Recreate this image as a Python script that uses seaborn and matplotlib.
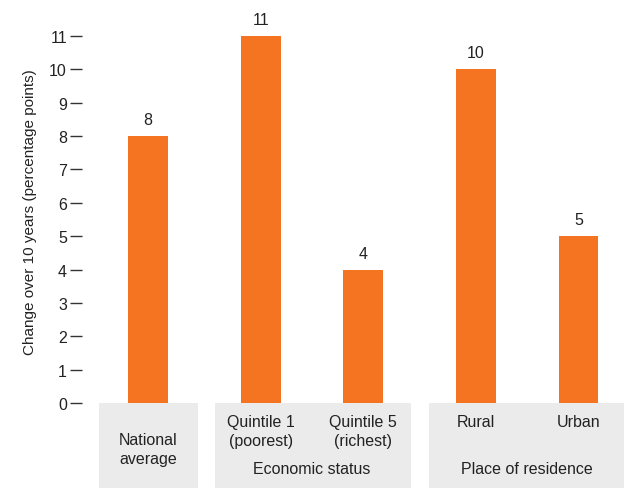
import matplotlib
matplotlib.use("Agg")
import matplotlib.pyplot as plt
from matplotlib.patches import Rectangle
import seaborn as sns
import pandas as pd

# Data
categories = ["National\naverage", "Quintile 1\n(poorest)", "Quintile 5\n(richest)", "Rural", "Urban"]
groups = ["", "Economic status", "Economic status", "Place of residence", "Place of residence"]
values = [8, 11, 4, 10, 5]
group_names = ["", "Economic status", "Place of residence"]
y_ticks = list(range(0, 12))

sns.set_theme(style="white")
plt.rcParams["font.family"] = ["Liberation Sans Narrow", "Liberation Sans", "DejaVu Sans"]

ORANGE = "#F47421"
BOX = "#EBEBEB"
TEXT = "#222222"
FS = 11.5

# x positions: one unit per bar, with an extra gap between groups
group_index = [group_names.index(g) for g in groups]
gap = 0.1
xpos = [i + gap * gi for i, gi in enumerate(group_index)]

df = pd.DataFrame({"x": xpos, "value": values, "label": categories})

W, H = 627, 489
fig = plt.figure(figsize=(W / 100, H / 100), dpi=100)
ax_left, ax_right, ax_bottom, ax_top = 99, 624, 404, 20
ax = fig.add_axes([ax_left / W, 1 - ax_bottom / H, (ax_right - ax_left) / W, (ax_bottom - ax_top) / H])

sns.barplot(data=df, x="x", y="value", native_scale=True, color=ORANGE,
            saturation=1, width=0.39, ax=ax, linewidth=0)

unit = 102.5  # pixels per x unit
x0 = -(148 - ax_left) / unit
x1 = x0 + (ax_right - ax_left) / unit
ax.set_xlim(x0, x1)
px_per_y = (404 - 37) / 11
ax.set_ylim(0, 11 + (37 - ax_top) / px_per_y)

# value labels
for x, v in zip(xpos, values):
    ax.annotate(str(v), (x, v), xytext=(0, 8.6), textcoords="offset points",
                ha="center", va="baseline", fontsize=FS, color=TEXT)

# y axis styling
for s in ax.spines.values():
    s.set_visible(False)
ax.spines["left"].set_position(("outward", 17 * 0.72))
ax.set_yticks(y_ticks)
ax.set_yticklabels([str(t) for t in y_ticks])
ax.tick_params(axis="y", left=True, length=12 * 0.72, width=1.0, color="#333333",
               pad=2.2, labelsize=FS, labelcolor=TEXT)
ax.set_xticks([])
ax.set_xlabel("")
ax.set_ylabel("Change over 10 years (percentage points)", fontsize=11, color=TEXT)
ax.yaxis.set_label_coords((37 - ax_left) / (ax_right - ax_left), 0.5)

# category boxes below the axis
trans = ax.get_xaxis_transform()
ax_h = ax_bottom - ax_top
def ay(py):
    return (ax_bottom - py) / ax_h

box_px = [(99, 198), (215, 411), (429, 624)]
for (l, r) in box_px:
    xl = x0 + (l - ax_left) / unit
    xr = x0 + (r - ax_left) / unit
    ax.add_patch(Rectangle((xl, ay(489)), xr - xl, ay(404) - ay(489), transform=trans,
                           facecolor=BOX, edgecolor="none", clip_on=False, zorder=0))

for x, lab, gi in zip(xpos, categories, group_index):
    if gi == 0:
        ax.text(x, ay(450), lab, transform=trans, ha="center", va="center",
                fontsize=FS, color=TEXT, linespacing=1.3, clip_on=False)
    else:
        ax.text(x, ay(415), lab, transform=trans, ha="center", va="top",
                fontsize=FS, color=TEXT, linespacing=1.3, clip_on=False)

for gi, name in enumerate(group_names):
    if not name:
        continue
    xs = [x for x, g in zip(xpos, group_index) if g == gi]
    ax.text(sum(xs) / len(xs), ay(470), name, transform=trans, ha="center", va="center",
            fontsize=FS, color=TEXT, clip_on=False)

fig.savefig("out.png", dpi=100)
